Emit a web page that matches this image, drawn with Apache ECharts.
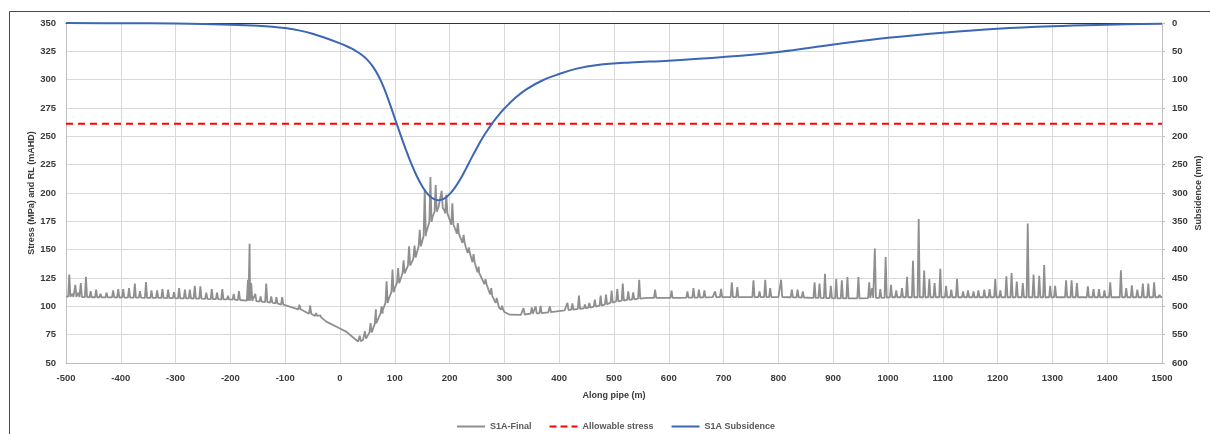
<!DOCTYPE html>
<html>
<head>
<meta charset="utf-8">
<script src="https://cdn.jsdelivr.net/npm/echarts@6/dist/echarts.min.js"></script>
<style>
html,body{margin:0;padding:0;background:#fff;}
#chart{width:1210px;height:434px;}
</style>
</head>
<body>
<div id="chart"></div>
<script>
// ---- Data ----
const seriesNames = ['S1A-Final', 'Allowable stress', 'S1A Subsidence'];

// Stress baseline (distance m, MPa)
const baseM   = [-500,-450,-400,-350,-300,-250,-200,-170,-135,-100,-75,-50,-25,0,12,24,33,42,54,66,78,90,100,115,133,145,157,169,180,191,200,212,230,254,278,290,300,310,330,350,380,410,440,470,500,530,560,620,680,740,800,860,920,980,1050,1150,1250,1350,1450,1500];
const baseMPa = [108.5,108,107.8,107.5,107.2,106.8,106,105,103.8,101.3,97.5,92.5,86.5,80.5,77.5,72.5,69,70.5,76.5,85,96.5,108,116,128,141,153,164.5,179,188,184,176.5,166,151.5,129.5,109,99,95,92.6,92.5,93.5,94.7,96.5,98,100,104,106,107.4,107.4,108.2,108.2,108.2,107.5,107,107.5,108,108,108,108,108,108.5];

// Stress spikes: [distance m, foot MPa, peak MPa]
const spikes = [
 [-494,108.5,128],[-488.5,108.3,111],[-483,108.3,119],[-477.5,108.2,112],[-473,108.2,120.6],[-463.6,108.1,126],
 [-455,108,113.5],[-445,108,114.7],[-437,108,111],[-426,107.9,112],[-414,107.9,114],[-404.7,107.8,115.3],
 [-395.6,107.8,115.3],[-385,107.7,116],[-374.4,107.6,120],[-365,107.6,113.5],[-354,107.5,121.5],[-344,107.5,114],
 [-333.7,107.4,114],[-324,107.4,115.3],[-313.6,107.3,114.7],[-303,107.2,112.6],[-293.6,107.1,116],[-283,107.1,114.7],
 [-274,107,114.7],[-265,106.9,118],[-254.8,106.8,117.6],[-244,106.6,112],[-234,106.4,115.3],[-224.4,106.3,112],
 [-214.7,106.2,115.3],[-204.4,106.1,109.4],[-194,105.9,111],[-184.4,105.6,113.5],[-168,105,123.5],[-165,105,155.3],
 [-162,104.9,120.6],[-154.6,104.6,111],[-145,104.2,108.8],[-134.6,103.8,120],[-125.5,103.2,108.8],[-116,102.5,108.2],
 [-105.5,101.6,108.2],[-74,97.4,101.5],[-54.5,93.5,100.6],[-43.6,91.5,94],[-36,90,92],
 [36,69.2,74],[45.5,71.5,78],[55.8,77,85.3],[65.5,84.5,97.4],[75.8,93.5,100],[85,103,122],[95.8,112.5,132.4],
 [106,120.5,133.8],[116,129,140.6],[126,136,153],[136,143,153.5],[145.5,153,167.6],[154.6,162,203],[165,174.5,214],
 [174.6,183.5,207],[185.5,187,202],[194,182,198.5],[205,172,191],[215,164,173.5],[225.5,156,163],[235,147,152],
 [243.7,139,146],[253,130,135],[265.5,119.5,124],[276,110.5,116],[286,103,107.4],[295.8,97,100.5],
 [335,92.8,98.5],[350,93.5,99],[357,93.8,100],[366,94,100.4],[383,94.8,100],[415,96.6,103],[424,97,102.5],
 [436,97.8,109.5],[447,98.3,101.5],[455,98.8,103],[465,99.8,106],[475.6,100.7,109.4],[485.4,101.8,110.3],
 [495.7,103.3,114],[506,104.3,115.3],[516,105,120],[526,105.7,113.2],[535,106.2,112.4],[546,106.8,123.5],
 [575,107.4,114.7],[605,107.4,113.8],[634,107.6,113.2],[645,107.7,116],[655,107.8,114.7],[665,107.9,114],
 [684.5,108.2,113.2],[695.4,108.2,115.3],[715,108.2,121.2],[725,108.2,117],[754.5,108.2,123],[765.5,108.2,113.2],
 [776,108.2,123.5],[785,108.2,116],[805,108.2,123.5],[824.5,108,114.7],[835,107.9,114.7],[844.6,107.8,113.2],
 [866,107.5,121.2],[875,107.4,120],[885,107.3,128.8],[895.7,107.2,118],[905.5,107.1,124],[915.8,107,123],
 [926,107,125.9],[946,107.1,125.9],[965.7,107.3,121.2],[971,107.4,116],[976,107.4,151],[986,107.5,115.3],
 [995.7,107.7,143.5],[1005.5,108,119],[1015,108,114],[1025.5,108,116],[1034.7,108,126],[1045.6,108,140.3],
 [1056,108,177],[1066,108,131.5],[1075.4,108,124],[1085,108,120.6],[1095.4,108,133.2],[1106,108,118],
 [1115.5,108,114.7],[1126,108,124.4],[1137,108,113.2],[1146,108,114],[1156,108,113.2],[1165,108,114],
 [1175.7,108,114.7],[1185.4,108,115.3],[1195.7,108,124],[1205,108,114],[1216,108,126.5],[1225.5,108,129.4],
 [1235,108,121.8],[1246,108,120.6],[1255,108,173],[1265.6,108,128],[1276,108,127],[1285,108,136.5],
 [1296,108,118],[1305,108,118],[1325,108,123],[1335,108,123],[1344.7,108,120.6],[1364.7,108,117.6],
 [1375,108,115.3],[1385,108,115.3],[1395,108,114],[1405.5,108,121.2],[1425,108,131.8],[1434.7,108,116],
 [1445,108,118.5],[1455,108,114.7],[1465,108,120],[1475,108,120],[1485.7,108,121.2],[1495.4,108,110]
];

// Allowable stress (MPa)
const allowM   = [-500, 1500];
const allowMPa = [261, 261];

// Subsidence (mm), plotted on the reversed right axis
const subM  = [-500,-400,-300,-200,-150,-100,-75,-50,-25,0,10,20,30,40,50,60,70,80,90,100,110,120,130,140,150,160,170,180,190,200,210,220,230,240,250,260,270,280,290,300,320,340,370,400,430,470,530,600,700,800,900,1000,1100,1200,1300,1400,1500];
const subMm = [0,0.5,1,3,5,9,13,19,27,36,40,44.5,50,56.5,65,77,93,114,140,168,196,223,248,270,288,302,310,313,310,302,290,275,257,238,220,203,188,174,162,151,132,117,101,90,81,74,69.5,66.5,60,51,38,26,17,10,5.6,3,1.2];

// Axis ticks
const xMin = -500, xMax = 1500, xStep = 100;
const yMin = 50, yMax = 350, yStep = 25;
const y2Min = 0, y2Max = 600, y2Step = 50;

// ---- Build series data ----
const SPIKE_HALF = 2;
const stressPts = baseM.map((m, i) => [m, baseMPa[i]]);
spikes.forEach(s => {
  stressPts.push([s[0] - SPIKE_HALF, s[1]], [s[0], s[2]], [s[0] + SPIKE_HALF, s[1]]);
});
stressPts.sort((a, b) => a[0] - b[0]);
const allowPts = allowM.map((m, i) => [m, allowMPa[i]]);
const subPts = subM.map((m, i) => [m, subMm[i]]);

const FONT = '"Liberation Sans", Arial, sans-serif';
const labelStyle = { fontFamily: FONT, fontSize: 9.5, fontWeight: 'bold', color: '#3a3a3a', formatter: v => String(v) };
const nameStyle = { fontFamily: FONT, fontSize: 9, fontWeight: 'bold', color: '#3a3a3a' };

const ICON_SOLID = 'path://M0,0h28v2h-28z';
const ICON_DASH = 'path://M0,0h7v2h-7z M11,0h7v2h-7z M22,0h6v2h-6z';

const chart = echarts.init(document.getElementById('chart'), null, { renderer: 'canvas' });
chart.setOption({
  animation: false,
  backgroundColor: '#ffffff',
  graphic: [{
    type: 'rect', silent: true, z: -10,
    shape: { x: 9.5, y: 11.5, width: 1400, height: 600 },
    style: { fill: 'none', stroke: '#4a4a4a', lineWidth: 1 }
  }],
  grid: { left: 66, right: 48, top: 23, bottom: 71, containLabel: false, outerBoundsMode: 'none' },
  legend: {
    data: [
      { name: seriesNames[0], icon: ICON_SOLID },
      { name: seriesNames[1], icon: ICON_DASH },
      { name: seriesNames[2], icon: ICON_SOLID }
    ],
    left: 452, top: 417,
    itemWidth: 28, itemHeight: 10, itemGap: 18,
    textStyle: { fontFamily: FONT, fontSize: 9, fontWeight: 'bold', color: '#595959' }
  },
  xAxis: [{
    type: 'value', min: xMin, max: xMax, interval: xStep, position: 'bottom',
    name: 'Along pipe (m)', nameLocation: 'middle', nameGap: 28, nameMoveOverlap: false, nameTextStyle: nameStyle,
    axisLine: { show: true, onZero: false, lineStyle: { color: '#bfbfbf', width: 1 } },
    axisTick: { show: false },
    axisLabel: Object.assign({ margin: 10 }, labelStyle),
    splitLine: { show: true, lineStyle: { color: '#d9d9d9', width: 1 } }
  }, {
    type: 'value', min: xMin, max: xMax, interval: xStep, position: 'top',
    axisLine: { show: true, onZero: false, lineStyle: { color: '#333333', width: 1 } },
    axisTick: { show: false }, axisLabel: { show: false }, splitLine: { show: false }
  }],
  yAxis: [{
    type: 'value', min: yMin, max: yMax, interval: yStep, position: 'left',
    name: 'Stress (MPa) and RL (mAHD)', nameLocation: 'middle', nameGap: 30, nameMoveOverlap: false, nameTextStyle: nameStyle,
    axisLine: { show: true, onZero: false, lineStyle: { color: '#bfbfbf', width: 1 } },
    axisTick: { show: false },
    axisLabel: Object.assign({ margin: 10 }, labelStyle),
    splitLine: { show: true, lineStyle: { color: '#d9d9d9', width: 1 } }
  }, {
    type: 'value', min: y2Min, max: y2Max, interval: y2Step, position: 'right', inverse: true,
    name: 'Subsidence (mm)', nameLocation: 'middle', nameGap: 32, nameRotate: 90, nameMoveOverlap: false, nameTextStyle: nameStyle,
    axisLine: { show: true, onZero: false, lineStyle: { color: '#bfbfbf', width: 1 } },
    axisTick: { show: true, length: 3, lineStyle: { color: '#bfbfbf' } },
    axisLabel: Object.assign({ margin: 10 }, labelStyle),
    splitLine: { show: false }
  }],
  series: [{
    name: seriesNames[0], type: 'line', xAxisIndex: 0, yAxisIndex: 0,
    data: stressPts, symbol: 'none', showSymbol: false,
    lineStyle: { color: '#8f8f8f', width: 1.8 }, itemStyle: { color: '#8f8f8f' }, z: 2
  }, {
    name: seriesNames[1], type: 'line', xAxisIndex: 0, yAxisIndex: 0,
    data: allowPts, symbol: 'none', showSymbol: false,
    lineStyle: { color: '#ff0000', width: 2, type: [7, 5] }, itemStyle: { color: '#ff0000' }, z: 3
  }, {
    name: seriesNames[2], type: 'line', xAxisIndex: 0, yAxisIndex: 1,
    data: subPts, symbol: 'none', showSymbol: false, smooth: 0.4,
    lineStyle: { color: '#3d66b6', width: 2 }, itemStyle: { color: '#3d66b6' }, z: 4
  }]
});
</script>
</body>
</html>
